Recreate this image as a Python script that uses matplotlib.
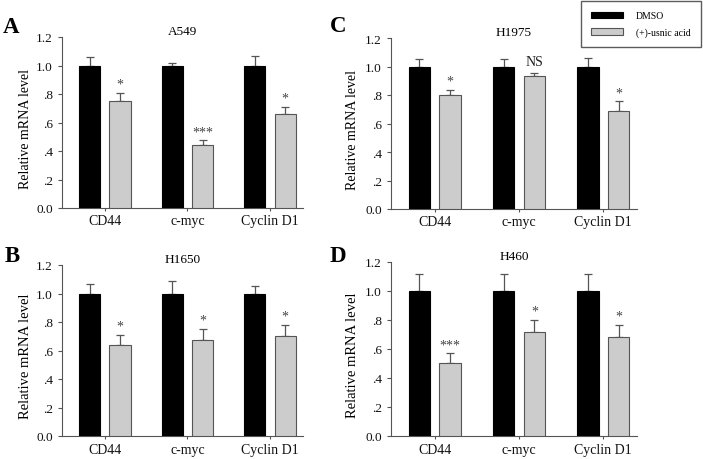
import matplotlib
matplotlib.use("Agg")
import matplotlib.pyplot as plt
from matplotlib.patches import Patch
import numpy as np

plt.rcParams['font.family'] = ['Liberation Serif', 'DejaVu Serif']

categories = ["CD44", "c-myc", "Cyclin D1"]
yticks = [0.0, 0.2, 0.4, 0.6, 0.8, 1.0, 1.2]
ytick_labels = ["0.0", ".2", ".4", ".6", ".8", "1.0", "1.2"]
series_names = ["DMSO", "(+)-usnic acid"]

# Panel A: A549
a_dmso = [1.0, 1.0, 1.0]
a_dmso_err = [0.057, 0.02, 0.07]
a_usnic = [0.75, 0.44, 0.66]
a_usnic_err = [0.06, 0.035, 0.048]
a_marks = ["*", "***", "*"]

# Panel B: H1650
b_dmso = [1.0, 1.0, 1.0]
b_dmso_err = [0.068, 0.09, 0.056]
b_usnic = [0.64, 0.675, 0.705]
b_usnic_err = [0.072, 0.077, 0.077]
b_marks = ["*", "*", "*"]

# Panel C: H1975
c_dmso = [1.0, 1.0, 1.0]
c_dmso_err = [0.05, 0.05, 0.062]
c_usnic = [0.80, 0.93, 0.69]
c_usnic_err = [0.035, 0.027, 0.065]
c_marks = ["*", "NS", "*"]

# Panel D: H460
d_dmso = [1.0, 1.0, 1.0]
d_dmso_err = [0.115, 0.115, 0.115]
d_usnic = [0.505, 0.715, 0.685]
d_usnic_err = [0.065, 0.085, 0.08]
d_marks = ["***", "*", "*"]

W, H = 703, 460
fig = plt.figure(figsize=(W / 100, H / 100), dpi=100)


def px_axes(L, R, T, B):
    return fig.add_axes([L / W, 1 - B / H, (R - L) / W, (B - T) / H])


BLACK = "#000000"
GRAY = "#cccccc"
EDGE_GRAY = "#555555"
ERR = "#555555"


def panel(rect, letter, letter_xy, title, dmso, dmso_err, usnic, usnic_err, marks,
          ylab_x, ylab_size, xpad):
    ax = px_axes(*rect)
    x = np.arange(len(categories))
    w = 0.255
    off = 0.183
    ax.bar(x - off, dmso, w, color=BLACK, edgecolor=BLACK, linewidth=0.8, zorder=3)
    ax.bar(x + off, usnic, w, color=GRAY, edgecolor=EDGE_GRAY, linewidth=0.8, zorder=3)
    ax.errorbar(x - off, dmso, yerr=[np.zeros(3), dmso_err], fmt='none', ecolor=ERR,
                elinewidth=0.9, capsize=3.2, capthick=0.9, zorder=2)
    ax.errorbar(x + off, usnic, yerr=[np.zeros(3), usnic_err], fmt='none', ecolor=ERR,
                elinewidth=0.9, capsize=3.2, capthick=0.9, zorder=2)
    for xi, v, e, m in zip(x + off, usnic, usnic_err, marks):
        if m == "NS":
            ax.text(xi, v + e + 0.03, m, ha='center', va='bottom', fontsize=10, color="#222222")
        else:
            ax.text(xi, v + e + 0.015, m, ha='center', va='bottom', fontsize=10, color="#444444")
    ax.set_ylim(0, 1.2)
    ax.set_xlim(-0.52, 2.4)
    ax.set_yticks(yticks)
    ax.set_yticklabels(ytick_labels, fontsize=9.5)
    ax.set_xticks(x)
    ax.set_xticklabels(categories, fontsize=10)
    ax.tick_params(axis='both', direction='out', length=3, width=0.8, colors="#555555",
                   labelcolor="#111111")
    ax.tick_params(axis='x', pad=xpad, length=2.5)
    for s in ['top', 'right']:
        ax.spines[s].set_visible(False)
    for s in ['left', 'bottom']:
        ax.spines[s].set_color("#555555")
        ax.spines[s].set_linewidth(0.8)
    ax.set_ylabel("Relative mRNA level", fontsize=ylab_size)
    ax.yaxis.set_label_coords((ylab_x - rect[0]) / (rect[1] - rect[0]), 0.47)
    ax.yaxis.label.set_va('center')
    ax.set_title(title, fontsize=9.5, pad=2)
    fig.text(letter_xy[0] / W, 1 - letter_xy[1] / H, letter, fontsize=16.5, fontweight='bold',
             ha='left', va='baseline')
    return ax


panel((62, 303, 38, 209), "A", (3, 33), "A549", a_dmso, a_dmso_err, a_usnic, a_usnic_err,
      a_marks, 25, 10, 2)
panel((391, 637, 39, 210), "C", (330, 32), "H1975", c_dmso, c_dmso_err, c_usnic, c_usnic_err,
      c_marks, 352, 10, 2)
panel((62, 303, 266, 437), "B", (5, 262), "H1650", b_dmso, b_dmso_err, b_usnic, b_usnic_err,
      b_marks, 25, 10.5, 2.5)
panel((391, 637, 263, 437), "D", (330, 262), "H460", d_dmso, d_dmso_err, d_usnic, d_usnic_err,
      d_marks, 352, 10.5, 2.5)

handles = [Patch(facecolor=BLACK, edgecolor=BLACK, linewidth=0.8),
           Patch(facecolor=GRAY, edgecolor=EDGE_GRAY, linewidth=0.8)]
leg = fig.legend(handles, series_names, loc='upper right', bbox_to_anchor=(701 / W, 1 - 2 / H),
                 fontsize=7, frameon=True, fancybox=False, handlelength=3.2, handleheight=0.65,
                 handletextpad=1.4, labelspacing=0.75, borderpad=1.05, borderaxespad=0)
leg.get_frame().set_edgecolor("#333333")
leg.get_frame().set_linewidth(1.0)

fig.savefig("out.png", dpi=100)
